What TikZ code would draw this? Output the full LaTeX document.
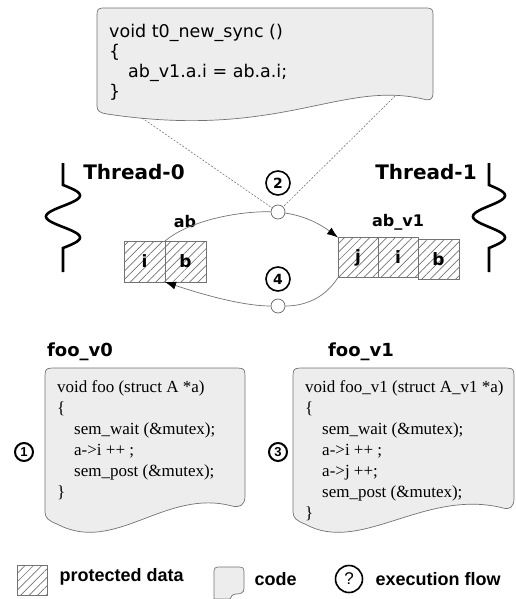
\documentclass[tikz,border=0pt]{standalone}
\usepackage{fontspec}
\setmainfont{Liberation Serif}
\newfontfamily\verdana{DejaVu Sans}
\newfontfamily\arial{Liberation Sans}
\usetikzlibrary{positioning,arrows.meta,patterns.meta}

\tikzset{
  codebox/.style={draw=black!55, fill=black!7, line width=0.7pt},
  databox/.style={draw=black!55, line width=0.8pt,
    pattern={Lines[angle=45,distance=6pt,line width=0.7pt]}, pattern color=black!55,
    minimum width=41pt, minimum height=41pt, inner sep=0pt, outer sep=0pt,
    font=\verdana\bfseries\fontsize{17}{20}\selectfont},
  thread/.style={line width=2.6pt},
  threadname/.style={font=\verdana\bfseries\fontsize{20}{22}\selectfont},
  varname/.style={font=\verdana\bfseries\fontsize{16}{20}\selectfont},
  flow/.style={circle, draw=black!60, fill=white, minimum size=14pt, inner sep=0pt, line width=0.7pt},
  stepnum/.style={circle, draw, line width=1.6pt, minimum size=24pt, inner sep=0pt,
    font=\verdana\bfseries\fontsize{14}{14}\selectfont},
  stepsmall/.style={circle, draw, line width=2pt, minimum size=18pt, inner sep=0pt,
    font=\arial\bfseries\fontsize{13}{13}\selectfont},
  flowline/.style={black!55, line width=0.7pt},
  syncline/.style={black!60, line width=0.5pt, dash pattern=on 2pt off 1.5pt},
  tip/.style={-{Latex[length=11pt,width=8pt,color=black]}},
  synccode/.style={align=left, inner sep=0pt, font=\verdana\fontsize{17.5}{20}\selectfont},
  fookode/.style={align=left, inner sep=0pt, font=\fontsize{17}{21}\selectfont},
  keytext/.style={font=\arial\bfseries\fontsize{18}{20}\selectfont}
}

\begin{document}
\begin{tikzpicture}[x=1pt,y=-1pt]
\useasboundingbox (0,0) rectangle (516,599);

% sync code on top
\draw[codebox] (97,106) -- (97,18) .. controls (97,8) .. (107,8) -- (423,8)
  .. controls (433,8) .. (433,18) -- (433,92) .. controls (433,100) and (430,101) .. (423,99)
  .. controls (340,80) and (280,140) .. (107,114) .. controls (100,113) and (97,111) .. (97,106) -- cycle;
\node[synccode, anchor=north west] (sync) at (109,24)
  {void t0\_new\_sync ()\\\{\\\hspace*{19pt}ab\_v1.a.i = ab.a.i;\\\}};
\coordinate (sync-l) at (142,118);
\coordinate (sync-r) at (395,96);

% threads
\node[threadname] (t0) at (134,172) {Thread-0};
\node[threadname] (t1) at (426,172) {Thread-1};
\draw[thread] (63,163) -- (63,185)
  -- plot[domain=0:540, samples=73, smooth] ({63+17*sin(\x)},{185+0.11667*\x}) -- (63,272);
\draw[thread] (489,163) -- (489,185)
  -- plot[domain=0:540, samples=73, smooth] ({489+16*sin(\x)},{185+0.11667*\x}) -- (489,272);

% data
\node[databox] (ab-i) at (144.5,261.5) {i};
\node[databox, right=0pt of ab-i] (ab-b) {b};
\node[varname] (ab) at (185,222) {ab};
\node[databox, minimum width=40pt, minimum height=40pt] (v1-j) at (358,257.5) {j};
\node[databox, minimum width=40pt, minimum height=40pt, right=0pt of v1-j] (v1-i) {i};
\node[databox, minimum width=41pt, minimum height=40pt, right=0pt of v1-i, yshift=-2pt] (v1-b) {b};
\node[varname] (ab-v1) at (398,222) {ab\_v1};

% flow
\node[flow] (c2) at (278,212) {};
\node[flow] (c4) at (278,306) {};
\node[stepnum] (n2) at (278,183) {2};
\node[stepnum] (n4) at (278,279) {4};
\draw[flowline] (ab-b.north west) .. controls (190,220) and (240,211) .. (c2);
\draw[flowline, tip] (c2) .. controls (305,216) and (320,224) .. (v1-j.north west);
\draw[flowline] (v1-j.south west) .. controls (325,298) and (305,306) .. (c4);
\draw[flowline, tip] (c4) .. controls (240,306) and (195,292) .. (ab-b.south west);
\draw[syncline] (sync-l) -- (c2);
\draw[syncline] (sync-r) -- (c2);

% foo_v0
\node[varname, font=\verdana\bfseries\fontsize{18}{20}\selectfont] (foo0) at (80,352) {foo\_v0};
\draw[codebox] (45,512) -- (45,380) .. controls (45,368) .. (57,368) -- (233,368)
  .. controls (245,368) .. (245,380) -- (245,496) .. controls (245,505) and (240,508) .. (232,506)
  .. controls (165,488) and (115,555) .. (57,524) .. controls (49,521) and (45,518) .. (45,512) -- cycle;
\node[fookode, anchor=north west] (code0) at (57,380)
  {void foo (struct A *a)\\\{\\\hspace*{17pt}sem\_wait (\&mutex);\\\hspace*{17pt}a->i ++ ;\\
   \hspace*{17pt}sem\_post (\&mutex);\\\}};
\node[stepsmall] (n1) at (24,452) {1};

% foo_v1
\node[varname, font=\verdana\bfseries\fontsize{18}{20}\selectfont] (foo1) at (361,352) {foo\_v1};
\draw[codebox] (293,512) -- (293,380) .. controls (293,368) .. (305,368) -- (502,368)
  .. controls (514,368) .. (514,380) -- (514,498) .. controls (514,507) and (510,510) .. (503,508)
  .. controls (425,488) and (360,555) .. (305,524) .. controls (297,521) and (293,518) .. (293,512) -- cycle;
\node[fookode, anchor=north west] (code1) at (305,380)
  {void foo\_v1 (struct A\_v1 *a)\\\{\\\hspace*{17pt}sem\_wait (\&mutex);\\\hspace*{17pt}a->i ++ ;\\
   \hspace*{17pt}a->j ++;\\\hspace*{17pt}sem\_post (\&mutex);\\\}};
\node[stepsmall] (n3) at (278,452) {3};

% key
\node[databox, minimum width=30pt, minimum height=30pt] (key-data) at (32,580) {};
\node[keytext, anchor=west] (key-data-txt) at (56,577) {protected data};
\draw[codebox] (214,599) -- (214,575) .. controls (214,567) .. (222,567) -- (236,567)
  .. controls (244,567) .. (244,575) -- (244,588) .. controls (244,593) and (241,594) .. (236,594)
  .. controls (232,594) and (231,597) .. (230,599) -- cycle;
\node[keytext, anchor=west] (key-code-txt) at (251,579) {code};
\node[stepnum, minimum size=27pt, font=\arial\fontsize{17}{17}\selectfont] (key-flow) at (349,579) {?};
\node[keytext, anchor=west] (key-flow-txt) at (372,579) {execution flow};
\end{tikzpicture}
\end{document}
